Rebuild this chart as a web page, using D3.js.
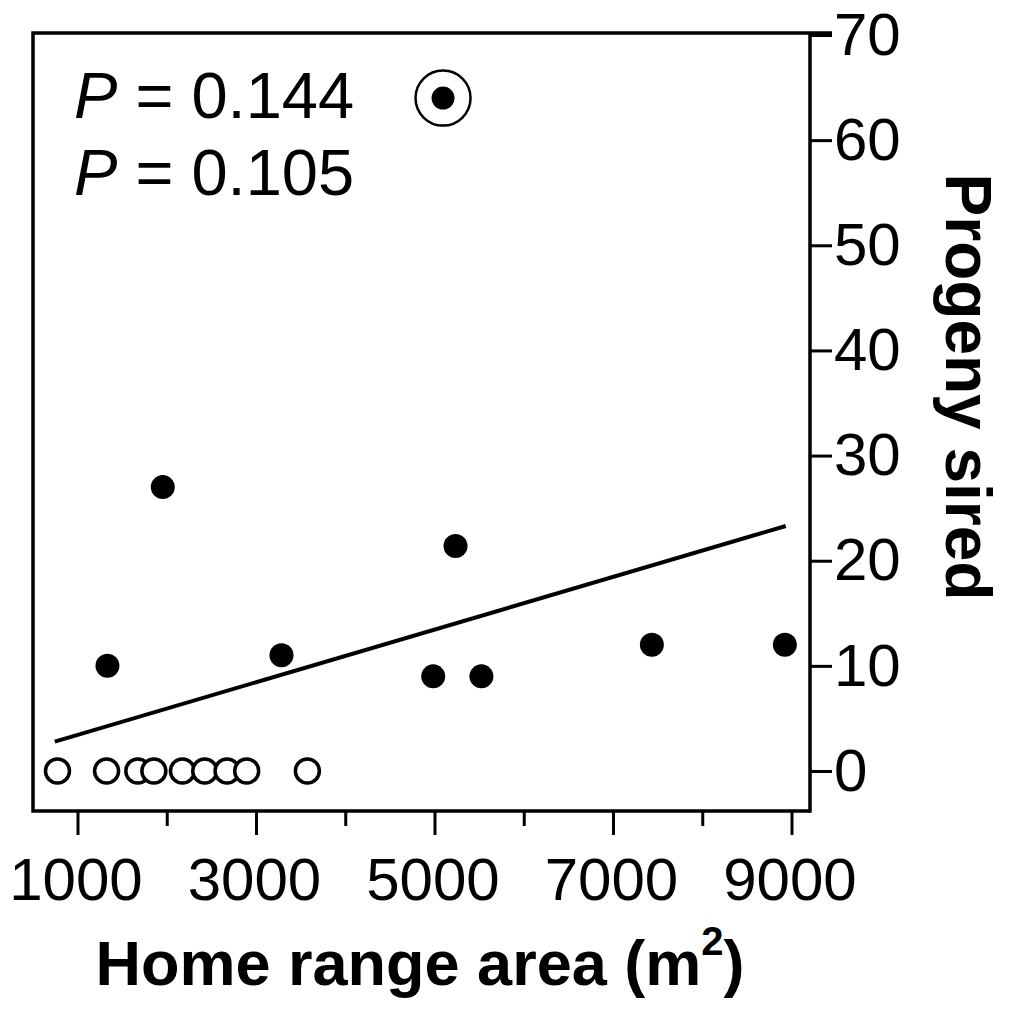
<!DOCTYPE html>
<html>
<head>
<meta charset="utf-8">
<script src="https://cdn.jsdelivr.net/npm/d3@7"></script>
<style>
  html, body { margin: 0; padding: 0; background: #fff; }
  svg { display: block; font-family: "Liberation Sans", Arial, Helvetica, sans-serif; }
</style>
</head>
<body>
<svg id="chart" width="1009" height="1010"></svg>
<script>
// males that sired offspring
const siredArea = [1330, 1950, 3280, 4980, 5230, 5520, 7430, 8920];
const siredCount = [10, 27, 11, 9, 21.4, 9, 12, 12];
// outlier, circled
const outlierArea = [5090];
const outlierCount = [64];
// males with no progeny
const zeroArea = [770, 1320, 1670, 1850, 2170, 2420, 2670, 2890, 3570];
const zeroCount = [0, 0, 0, 0, 0, 0, 0, 0, 0];
// regression line end points
const fitArea = [740, 8930];
const fitCount = [2.8, 23.3];

const xTicks = [1000, 2000, 3000, 4000, 5000, 6000, 7000, 8000, 9000];
const xLabels = [1000, 3000, 5000, 7000, 9000];
const yTicks = [0, 10, 20, 30, 40, 50, 60, 70];
const pLabels = ["0.144", "0.105"];

const svg = d3.select("#chart");
const frame = { left: 33, right: 810, top: 33, bottom: 811 };

const x = d3.scaleLinear().domain([1000, 9000]).range([78, 792]);
const y = d3.scaleLinear().domain([0, 70]).range([771, 35]);

// frame (left, top, bottom)
svg.append("path")
  .attr("d", `M${frame.right},${frame.bottom}H${frame.left}V${frame.top}H${frame.right + 22}`)
  .attr("fill", "none")
  .attr("stroke", "#000")
  .attr("stroke-width", 3.5);

// right axis
const yAxis = svg.append("g")
  .attr("transform", `translate(${frame.right},0)`)
  .call(d3.axisRight(y).tickValues(yTicks).tickSize(22).tickPadding(2).tickFormat(d3.format("d")));
yAxis.select(".domain").remove();
yAxis.append("line")
  .attr("y1", frame.top).attr("y2", frame.bottom + 1.75)
  .attr("stroke", "#000").attr("stroke-width", 3.5);
yAxis.selectAll(".tick line").attr("stroke-width", 3);
yAxis.selectAll(".tick text")
  .attr("font-size", 60)
  .attr("fill", "#000")
  .attr("font-family", null);

// bottom axis with long ticks at labelled values
const xAxis = svg.append("g").attr("transform", `translate(0,${frame.bottom})`);
xAxis.selectAll("line")
  .data(xTicks)
  .join("line")
  .attr("x1", (d) => x(d))
  .attr("x2", (d) => x(d))
  .attr("y1", 0)
  .attr("y2", (d) => (xLabels.includes(d) ? 24 : 15))
  .attr("stroke", "#000")
  .attr("stroke-width", 3);
xAxis.selectAll("text")
  .data(xLabels)
  .join("text")
  .attr("x", (d) => x(d) - 2)
  .attr("y", 89)
  .attr("text-anchor", "middle")
  .attr("font-size", 60)
  .text((d) => d);

// regression line
svg.append("line")
  .attr("x1", x(fitArea[0])).attr("y1", y(fitCount[0]))
  .attr("x2", x(fitArea[1])).attr("y2", y(fitCount[1]))
  .attr("stroke", "#000")
  .attr("stroke-width", 4);

// open circles
svg.append("g")
  .selectAll("circle")
  .data(zeroArea.map((a, i) => [a, zeroCount[i]]))
  .join("circle")
  .attr("cx", (d) => x(d[0]))
  .attr("cy", (d) => y(d[1]))
  .attr("r", 12)
  .attr("fill", "#fff")
  .attr("stroke", "#000")
  .attr("stroke-width", 3.5);

// filled points
svg.append("g")
  .selectAll("circle")
  .data(siredArea.map((a, i) => [a, siredCount[i]]))
  .join("circle")
  .attr("cx", (d) => x(d[0]))
  .attr("cy", (d) => y(d[1]))
  .attr("r", 12)
  .attr("fill", "#000");

// outlier with ring
const out = svg.append("g")
  .selectAll("g")
  .data(outlierArea.map((a, i) => [a, outlierCount[i]]))
  .join("g")
  .attr("transform", (d) => `translate(${x(d[0])},${y(d[1])})`);
out.append("circle").attr("r", 27.5).attr("fill", "none").attr("stroke", "#000").attr("stroke-width", 2.5);
out.append("circle").attr("r", 11.5).attr("fill", "#000");

// P values
svg.append("g")
  .selectAll("text")
  .data(pLabels)
  .join("text")
  .attr("x", 74)
  .attr("y", (d, i) => 118 + i * 77)
  .attr("font-size", 65)
  .call((t) => {
    t.append("tspan").attr("font-style", "italic").text("P");
    t.append("tspan").text((d) => " = " + d);
  });

// axis titles
const xTitle = svg.append("text")
  .attr("x", 420)
  .attr("y", 985)
  .attr("text-anchor", "middle")
  .attr("font-size", 63)
  .attr("font-weight", "bold");
xTitle.append("tspan").text("Home range area (m");
xTitle.append("tspan").attr("font-size", 40).attr("dy", -30).text("2");
xTitle.append("tspan").attr("dy", 30).text(")");

svg.append("text")
  .attr("transform", "translate(946,387) rotate(90)")
  .attr("text-anchor", "middle")
  .attr("font-size", 64)
  .attr("font-weight", "bold")
  .text("Progeny sired");
</script>
</body>
</html>
